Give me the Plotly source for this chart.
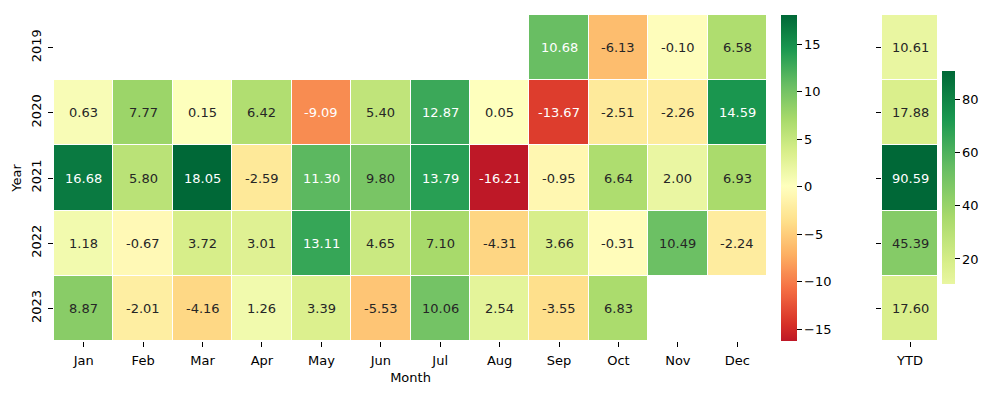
import numpy as np
import plotly.graph_objects as go

months = ["Jan", "Feb", "Mar", "Apr", "May", "Jun", "Jul", "Aug", "Sep", "Oct", "Nov", "Dec"]
years = ["2019", "2020", "2021", "2022", "2023"]
r2019 = [None, None, None, None, None, None, None, None, 10.68, -6.13, -0.10, 6.58]
r2020 = [0.63, 7.77, 0.15, 6.42, -9.09, 5.40, 12.87, 0.05, -13.67, -2.51, -2.26, 14.59]
r2021 = [16.68, 5.80, 18.05, -2.59, 11.30, 9.80, 13.79, -16.21, -0.95, 6.64, 2.00, 6.93]
r2022 = [1.18, -0.67, 3.72, 3.01, 13.11, 4.65, 7.10, -4.31, 3.66, -0.31, 10.49, -2.24]
r2023 = [8.87, -2.01, -4.16, 1.26, 3.39, -5.53, 10.06, 2.54, -3.55, 6.83, None, None]
ytd = [10.61, 17.88, 90.59, 45.39, 17.60]

monthly = [r2019, r2020, r2021, r2022, r2023]

RDYLGN = ["#a50026", "#d73027", "#f46d43", "#fdae61", "#fee08b", "#ffffbf",
          "#d9ef8b", "#a6d96a", "#66bd63", "#1a9850", "#006837"]
base = np.array([[int(c[i:i + 2], 16) / 255 for i in (1, 3, 5)] for c in RDYLGN])
pos = np.linspace(0, 1, len(RDYLGN))


def cmap(t):
    return np.array([np.interp(t, pos, base[:, k]) for k in range(3)])


def to_hex(rgb):
    return "#%02x%02x%02x" % tuple(int(round(v * 255)) for v in rgb)


def centered(vmin, vmax, center=0.0, n=64):
    vrange = max(vmax - center, center - vmin)
    lo = center - vrange
    cmin = (vmin - lo) / (2 * vrange)
    cmax = (vmax - lo) / (2 * vrange)
    ts = np.linspace(cmin, cmax, n)
    scale = [[i / (n - 1), to_hex(cmap(t))] for i, t in enumerate(ts)]
    return scale, cmin, cmax


def lum(rgb):
    rgb = np.where(rgb <= .03928, rgb / 12.92, ((rgb + .055) / 1.055) ** 2.4)
    return rgb.dot([.2126, .7152, .0722])


def color_of(v, vmin, vmax, cmin, cmax):
    f = (v - vmin) / (vmax - vmin)
    return cmap(cmin + f * (cmax - cmin))


flat = [v for row in monthly for v in row if v is not None]
mmin, mmax = min(flat), max(flat)
ymin, ymax = min(ytd), max(ytd)
scale1, c1a, c1b = centered(mmin, mmax)
scale2, c2a, c2b = centered(ymin, ymax)

xi_idx = list(range(len(months)))
yi_idx = list(range(len(years)))

# page has an 8px body margin; figure coordinates = page coordinates - 8
OFF = 8
W, H = 989 - OFF, 398 - OFF
FONT = "DejaVu Sans"
FS = 13
NB = "\u00a0"


def px(x):
    return (x - OFF) / W


def py(y):
    return (H - (y - OFF)) / H


fig = go.Figure()

fig.add_trace(go.Heatmap(
    z=monthly, x=xi_idx, y=yi_idx, xaxis="x", yaxis="y",
    colorscale=scale1, zmin=mmin, zmax=mmax, xgap=1, ygap=1,
    hoverongaps=False,
    colorbar=dict(x=px(781), xanchor="left", xpad=0, ypad=0, thickness=16,
                  len=326 / H, y=py(178), yanchor="middle", outlinewidth=0,
                  tickvals=[-15, -10, -5, 0, 5, 10, 15], ticks="outside", tickprefix=NB,
                  ticklen=5, tickcolor="#000", tickfont=dict(size=FS, color="#000", family=FONT)),
))
fig.add_trace(go.Heatmap(
    z=[[v] for v in ytd], x=[0], y=yi_idx, xaxis="x2", yaxis="y2",
    colorscale=scale2, zmin=ymin, zmax=ymax, xgap=1, ygap=1,
    colorbar=dict(x=px(942), xanchor="left", xpad=0, ypad=0, thickness=13,
                  len=213 / H, y=py(177.5), yanchor="middle", outlinewidth=0,
                  tickvals=[20, 40, 60, 80], ticks="outside", tickprefix=NB,
                  ticklen=5, tickcolor="#000", tickfont=dict(size=FS, color="#000", family=FONT)),
))

ann = []
for yi, row in enumerate(monthly):
    for xi, v in enumerate(row):
        if v is None:
            continue
        c = color_of(v, mmin, mmax, c1a, c1b)
        tc = "#ffffff" if lum(c) < .408 else "#262626"
        ann.append(dict(x=xi, y=yi, xref="x", yref="y", text=f"{v:.2f}",
                        showarrow=False, font=dict(size=FS, color=tc, family=FONT)))
for yi, v in enumerate(ytd):
    c = color_of(v, ymin, ymax, c2a, c2b)
    tc = "#ffffff" if lum(c) < .408 else "#262626"
    ann.append(dict(x=0, y=yi, xref="x2", yref="y2", text=f"{v:.2f}",
                    showarrow=False, font=dict(size=FS, color=tc, family=FONT)))

axis_common = dict(ticks="outside", ticklen=5, tickcolor="#000", showgrid=False, automargin=False,
                   zeroline=False, showline=False, ticklabelstandoff=2,
                   tickfont=dict(size=FS, color="#000", family=FONT))

fig.update_layout(
    width=W, height=H, margin=dict(l=0, r=0, t=0, b=0, autoexpand=False),
    plot_bgcolor="white", paper_bgcolor="white",
    font=dict(family=FONT, size=FS, color="#000"),
    annotations=ann,
    xaxis=dict(domain=[px(54), px(767)], anchor="y", range=[-0.5, 11.5],
               tickvals=xi_idx, ticktext=months,
               title=dict(text="Month", font=dict(size=FS, family=FONT), standoff=6), **axis_common),
    yaxis=dict(domain=[py(341), py(15)], anchor="x", range=[4.5, -0.5],
               tickvals=yi_idx, ticktext=years, tickangle=-90,
               title=dict(text="Year", font=dict(size=FS, family=FONT), standoff=4), **axis_common),
    xaxis2=dict(domain=[px(882), px(938)], anchor="y2", range=[-0.5, 0.5],
                tickvals=[0], ticktext=["YTD"], **axis_common),
    yaxis2=dict(domain=[py(341), py(15)], anchor="x2", range=[4.5, -0.5],
                tickvals=yi_idx, showticklabels=False, **axis_common),
)

fig.write_html("out.html")
